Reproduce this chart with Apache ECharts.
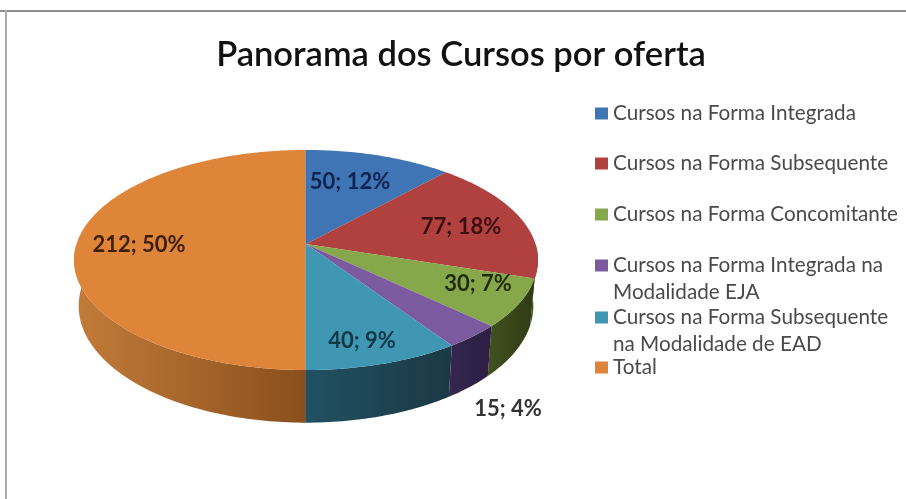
<!DOCTYPE html>
<html>
<head>
<meta charset="utf-8">
<title>Panorama dos Cursos por oferta</title>
<style>
  html, body { margin: 0; padding: 0; background: #fff; }
  #chart { width: 906px; height: 499px; }
</style>
</head>
<body>
<div id="chart"></div>
<script src="https://cdn.jsdelivr.net/npm/echarts@6/dist/echarts.min.js"></script>
<script>
const categories = [
  'Cursos na Forma Integrada',
  'Cursos na Forma Subsequente',
  'Cursos na Forma Concomitante',
  'Cursos na Forma Integrada na Modalidade EJA',
  'Cursos na Forma Subsequente na Modalidade de EAD',
  'Total'
]
const values = [50, 77, 30, 15, 40, 212]

const faceColors = ['#3f74b5', '#b0413f', '#87a74b', '#7b5aa0', '#3f97b3', '#de8539']
const wallLeft = ['#2c5280', '#42521f', '#42521f', '#35264f', '#215163', '#c27c39']
const wallRight = ['#243f63', '#3a4719', '#2f3a14', '#2c1f42', '#1b3844', '#8a4f1d']
const labelColors = ['#0f2350', '#3b0f10', '#1e2d0b', '#333333', '#123845', '#3d1f06']
const labelCenters = [[350, 182], [461, 227], [478, 284], [508, 409], [362, 341], [139, 245]]
const legendCenters = [113, 163, 214, 265, 317, 367]

// pie in perspective, fitted on the reference
const cx = 306
const cy = 244
const radiusX = 229.5
const radiusY = 107.7
const tilt = 0.1455
const depth = 45
const font = 'Lato, "Noto Sans", sans-serif'

const total = values.reduce((a, b) => a + b, 0)

const project = (deg) => {
  const a = deg * Math.PI / 180
  const w = 1 + tilt * Math.cos(a)
  return [cx + radiusX * Math.sin(a) / w, cy - radiusY * Math.cos(a) / w, depth / w]
}

const arc = (from, to) => {
  const pts = []
  const steps = Math.max(2, Math.ceil(to - from))
  for (let s = 0; s <= steps; s++) {
    pts.push(project(from + (to - from) * s / steps))
  }
  return pts
}

const renderSlice = (i) => (params, api) => {
  const start = values.slice(0, i).reduce((a, b) => a + b, 0) / total * 360
  const end = start + api.value(0) / total * 360
  const children = []

  // only the front half of the rim can be seen
  const wallFrom = Math.max(start, 90)
  const wallTo = Math.min(end, 270)
  if (wallTo > wallFrom) {
    const top = arc(wallFrom, wallTo)
    const bottom = top.map(p => [cx + (p[0] - cx) * 0.98, p[1] + p[2]]).reverse()
    children.push({
      type: 'polygon',
      shape: { points: top.map(p => [p[0], p[1]]).concat(bottom) },
      style: {
        fill: {
          type: 'linear', x: 0, y: 0, x2: 1, y2: 0,
          colorStops: [
            { offset: 0, color: wallLeft[i] },
            { offset: 1, color: wallRight[i] }
          ]
        }
      }
    })
  }

  const face = arc(start, end).map(p => [p[0], p[1]])
  face.unshift([cx, cy])
  children.push({
    type: 'polygon',
    shape: { points: face },
    style: { fill: faceColors[i] }
  })

  children.push({
    type: 'text',
    x: labelCenters[i][0],
    y: labelCenters[i][1],
    z2: 10,
    style: {
      text: api.value(0) + '; ' + Math.round(api.value(0) / total * 100) + '%',
      fill: labelColors[i],
      font: '700 22px ' + font,
      align: 'center',
      verticalAlign: 'middle'
    }
  })

  return { type: 'group', children }
}

const legendLabel = (name) => name
  .replace('Integrada na Modalidade', 'Integrada na\nModalidade')
  .replace('Subsequente na Modalidade', 'Subsequente\nna Modalidade')

const chart = echarts.init(document.getElementById('chart'))

chart.setOption({
  backgroundColor: '#ffffff',
  animation: false,
  title: {
    text: 'Panorama dos Cursos por oferta',
    left: 456,
    top: 32,
    textAlign: 'center',
    textStyle: { color: '#111111', fontFamily: font, fontSize: 34.5, fontWeight: 600 }
  },
  graphic: [
    { type: 'rect', shape: { x: 0, y: 10, width: 906, height: 2 }, style: { fill: '#8f8f8f' } },
    { type: 'rect', shape: { x: 5, y: 10, width: 2, height: 489 }, style: { fill: '#ababab' } }
  ],
  legend: categories.map((name, i) => {
    const twoLines = legendLabel(name).includes('\n')
    return {
      data: [name],
      orient: 'vertical',
      left: 595,
      top: legendCenters[i] - (twoLines ? 40 : 13),
      padding: 0,
      itemWidth: 13,
      itemHeight: 12,
      itemGap: 0,
      icon: 'rect',
      selectedMode: false,
      // empty first line keeps the symbol level with the first text line
      formatter: (n) => (twoLines ? '\n' : '') + legendLabel(n),
      textStyle: {
        color: '#4a4a4a',
        fontFamily: font,
        fontSize: 20.7,
        lineHeight: 27
      }
    }
  }),
  series: categories.map((name, i) => ({
    name,
    type: 'custom',
    coordinateSystem: 'none',
    silent: true,
    itemStyle: { color: faceColors[i] },
    data: [[values[i]]],
    renderItem: renderSlice(i)
  }))
})
</script>
</body>
</html>
